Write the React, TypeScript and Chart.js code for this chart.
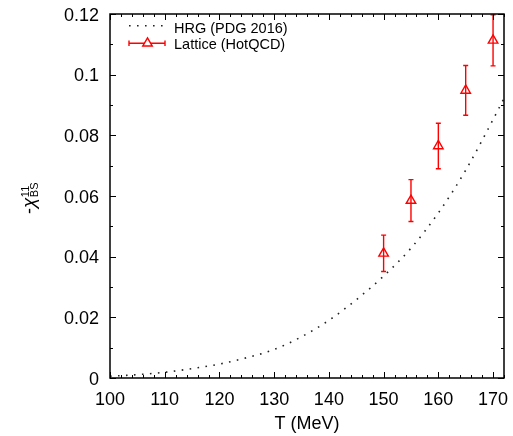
import { useEffect, useRef } from "react";
import { Chart, registerables } from "chart.js";

Chart.register(...registerables);

// HRG (PDG 2016) curve, -chi^11_BS vs T
const hrgT = [100, 105, 110, 115, 120, 125, 130, 135, 140, 145, 150, 155, 160, 165, 170, 172];
const hrgChi = [
  0.0006, 0.0011, 0.0019, 0.0031, 0.0046, 0.0067, 0.0094, 0.0136, 0.019, 0.0258, 0.0336, 0.0428,
  0.0544, 0.0685, 0.0852, 0.0922,
];

// Lattice (HotQCD) points with symmetric errors
const latticeT = [150, 155, 160, 165, 170];
const latticeChi = [0.0411, 0.0585, 0.0765, 0.0948, 0.1113];
const latticeErr = [0.006, 0.0069, 0.0075, 0.0082, 0.0084];

const xTicks = [100, 110, 120, 130, 140, 150, 160, 170];
const yTicks = [0, 0.02, 0.04, 0.06, 0.08, 0.1, 0.12];
const xTickLabels = xTicks.map((v) => String(v));
const yTickLabels = yTicks.map((v) => String(v));
const xMinorStep = 2;
const yMinorStep = 0.01;

const FONT = "'Liberation Sans', Arial, Helvetica, sans-serif";
const RED = "rgb(255,0,0)";

const framePlugin = {
  id: "frame",
  beforeDatasetsDraw(chart: any) {
    const { ctx, chartArea: a, scales } = chart;
    const xs = scales.x;
    const ys = scales.y;
    // error bars
    ctx.save();
    ctx.setLineDash([]);
    ctx.beginPath();
    ctx.rect(a.left, a.top, a.right - a.left, a.bottom - a.top);
    ctx.clip();
    ctx.strokeStyle = RED;
    ctx.lineWidth = 1.4;
    latticeT.forEach((t, i) => {
      const px = xs.getPixelForValue(t);
      const yHi = ys.getPixelForValue(latticeChi[i] + latticeErr[i]);
      const yLo = ys.getPixelForValue(latticeChi[i] - latticeErr[i]);
      ctx.beginPath();
      ctx.moveTo(px, yHi);
      ctx.lineTo(px, yLo);
      ctx.moveTo(px - 2.5, yHi);
      ctx.lineTo(px + 2.5, yHi);
      ctx.moveTo(px - 2.5, yLo);
      ctx.lineTo(px + 2.5, yLo);
      ctx.stroke();
    });
    ctx.restore();
  },
  afterDraw(chart: any) {
    const { ctx, chartArea: a, scales } = chart;
    const xs = scales.x;
    const ys = scales.y;
    ctx.save();
    ctx.setLineDash([]);
    ctx.lineDashOffset = 0;
    ctx.globalAlpha = 1;
    ctx.strokeStyle = "#000";
    ctx.lineWidth = 1.5;
    ctx.beginPath();
    ctx.rect(a.left, a.top, a.right - a.left, a.bottom - a.top);
    ctx.stroke();

    // inward ticks on all four sides
    ctx.lineWidth = 1;
    ctx.beginPath();
    for (let k = 0; xs.min + k * xMinorStep <= xs.max + 1e-9; k++) {
      const t = xs.min + k * xMinorStep;
      const major = xTicks.includes(t);
      const len = major ? 6 : 3;
      const px = Math.round(xs.getPixelForValue(t)) + 0.5;
      ctx.moveTo(px, a.bottom);
      ctx.lineTo(px, a.bottom - len);
      ctx.moveTo(px, a.top);
      ctx.lineTo(px, a.top + len);
    }
    for (let k = 0; k * yMinorStep <= ys.max + 1e-9; k++) {
      const v = k * yMinorStep;
      const major = k % 2 === 0;
      const len = major ? 6 : 3;
      const py = Math.round(ys.getPixelForValue(v)) + 0.5;
      ctx.moveTo(a.left, py);
      ctx.lineTo(a.left + len, py);
      ctx.moveTo(a.right, py);
      ctx.lineTo(a.right - len, py);
    }
    ctx.stroke();

    // tick labels
    ctx.fillStyle = "#000";
    ctx.font = `18px ${FONT}`;
    ctx.textAlign = "center";
    ctx.textBaseline = "alphabetic";
    xTicks.forEach((v, i) => {
      ctx.fillText(xTickLabels[i], xs.getPixelForValue(v), 405);
    });
    ctx.textAlign = "right";
    yTicks.forEach((v, i) => {
      ctx.fillText(yTickLabels[i], a.left - 11, ys.getPixelForValue(v) + 6.5);
    });

    // legend
    ctx.font = `14.5px ${FONT}`;
    ctx.textAlign = "left";
    ctx.fillText("HRG (PDG 2016)", 174, 33);
    ctx.fillText("Lattice (HotQCD)", 174, 48.5);

    ctx.strokeStyle = "#222";
    ctx.lineWidth = 1.6;
    ctx.setLineDash([1.6, 6.4]);
    ctx.beginPath();
    ctx.moveTo(129, 25.7);
    ctx.lineTo(165, 25.7);
    ctx.stroke();
    ctx.setLineDash([]);

    ctx.strokeStyle = RED;
    ctx.lineWidth = 1.4;
    ctx.beginPath();
    ctx.moveTo(129, 43.3);
    ctx.lineTo(165, 43.3);
    ctx.moveTo(129, 40.5);
    ctx.lineTo(129, 46.1);
    ctx.moveTo(165, 40.5);
    ctx.lineTo(165, 46.1);
    ctx.stroke();
    const r = 5.5;
    const cx = 147.5;
    const cy = 43.3;
    ctx.beginPath();
    ctx.moveTo(cx, cy - r);
    ctx.lineTo(cx + r * Math.sin((2 * Math.PI) / 3), cy + r / 2);
    ctx.lineTo(cx - r * Math.sin((2 * Math.PI) / 3), cy + r / 2);
    ctx.closePath();
    ctx.fillStyle = "#fff";
    ctx.fill();
    ctx.stroke();

    // x axis title
    ctx.fillStyle = "#000";
    ctx.font = `18px ${FONT}`;
    ctx.textAlign = "center";
    ctx.fillText("T (MeV)", (a.left + a.right) / 2, 429);

    // y axis title: -chi^11_BS, rotated
    ctx.save();
    ctx.rotate(-Math.PI / 2);
    ctx.textAlign = "left";
    let rx = -214;
    const base = 35;
    ctx.font = `18px ${FONT}`;
    ctx.fillText("-", rx, base);
    rx += ctx.measureText("-").width;
    ctx.font = `italic 19px ${FONT}`;
    ctx.fillText("\u03c7", rx, base);
    rx += ctx.measureText("\u03c7").width + 0.5;
    ctx.font = `11px ${FONT}`;
    ctx.fillText("11", rx, base - 6);
    ctx.fillText("BS", rx, base + 2.5);
    ctx.restore();

    ctx.restore();
  },
};

export default function App() {
  const ref = useRef<HTMLCanvasElement | null>(null);

  useEffect(() => {
    if (!ref.current) return;
    const chart = new Chart(ref.current, {
      type: "line",
      data: {
        datasets: [
          {
            label: "HRG (PDG 2016)",
            data: hrgT.map((t, i) => ({ x: t, y: hrgChi[i] })),
            borderColor: "#222",
            borderWidth: 1.6,
            borderDash: [1.6, 6.4],
            pointRadius: 0,
            cubicInterpolationMode: "monotone",
            fill: false,
          },
          {
            label: "Lattice (HotQCD)",
            data: latticeT.map((t, i) => ({ x: t, y: latticeChi[i] })),
            showLine: false,
            pointStyle: "triangle",
            pointRadius: 5.5,
            pointBorderColor: RED,
            pointBackgroundColor: "rgba(255,255,255,0)",
            pointBorderWidth: 1.4,
            borderColor: RED,
          },
        ],
      },
      options: {
        animation: false,
        responsive: true,
        maintainAspectRatio: false,
        layout: { padding: { top: 14, right: 9, left: 0, bottom: 0 } },
        plugins: { legend: { display: false }, tooltip: { enabled: false } },
        scales: {
          x: {
            type: "linear",
            min: 100,
            max: 172,
            grid: { display: false, drawTicks: false },
            border: { display: false },
            afterBuildTicks: (s: any) => {
              s.ticks = xTicks.map((v) => ({ value: v }));
            },
            afterFit: (s: any) => {
              s.height = 58;
            },
            ticks: { display: false },
          },
          y: {
            type: "linear",
            min: 0,
            max: 0.12,
            grid: { display: false, drawTicks: false },
            border: { display: false },
            afterBuildTicks: (s: any) => {
              s.ticks = yTicks.map((v) => ({ value: v }));
            },
            afterFit: (s: any) => {
              s.width = 110;
            },
            ticks: { display: false },
          },
        },
      },
      plugins: [framePlugin],
    });
    return () => chart.destroy();
  }, []);

  return (
    <div style={{ position: "fixed", left: 0, top: 0, width: 513, height: 436, background: "#fff" }}>
      <canvas ref={ref} />
    </div>
  );
}
